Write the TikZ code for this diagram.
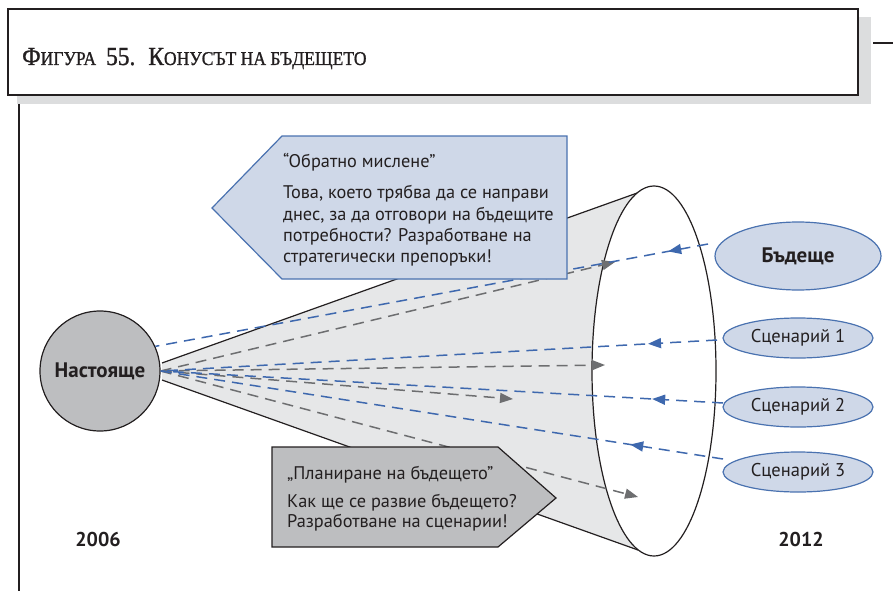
\documentclass[tikz,border=0pt]{standalone}
\usepackage{fontspec}
\setmainfont{PT Sans}
\newfontfamily\titlefont[FakeStretch=0.9,FakeBold=1]{Liberation Serif}
\usetikzlibrary{arrows.meta,decorations.markings,shapes.geometric}
\definecolor{shadowgray}{HTML}{DCDDDE}
\definecolor{conegray}{HTML}{E6E7E8}
\definecolor{circgray}{HTML}{BDBEC0}
\definecolor{bluefill}{HTML}{CFD8E8}
\definecolor{blueedge}{HTML}{4A72B0}
\definecolor{bluedashc}{HTML}{3E68AE}
\definecolor{graydashc}{HTML}{6D6E70}
\definecolor{darkink}{HTML}{231F20}
\tikzset{
  bluedash/.style={draw=bluedashc, line width=1.5pt, dash pattern=on 11pt off 7pt},
  graydash/.style={draw=graydashc, line width=1.5pt, dash pattern=on 11pt off 7pt, -{Triangle[length=13pt,width=10pt]}},
  midarrow/.style={decoration={markings, mark=at position #1 with {\arrow[bluedashc]{Triangle[length=13pt,width=10pt]}}}, postaction=decorate},
  scen/.style={ellipse, draw=blueedge, fill=bluefill, line width=1.2pt, inner sep=0pt, text=darkink},
  calltext/.style={anchor=base west, inner sep=0pt, text=darkink, font=\fontsize{18.3}{21}\selectfont},
}
\newcommand{\BC}[1]{{\fontsize{26}{30}\selectfont #1}}
\newcommand{\SC}[1]{{\fontsize{19.5}{24}\selectfont #1}}
\begin{document}
\begin{tikzpicture}[x=1pt,y=-1pt]
\useasboundingbox (0,0) rectangle (893,591);
% title frame
\fill[shadowgray] (17,17) rectangle (871,104);
\draw[line width=1.8pt, fill=white, draw=darkink] (8,9) rectangle (858,95);
\draw[line width=1.5pt, darkink] (873,43) -- (893,43);
\draw[line width=1.5pt, darkink] (19,104) -- (19,591);
\node[anchor=base west, inner sep=0pt, text=darkink, font=\titlefont] (title) at (22,65)
  {\BC{Ф}\SC{ИГУРА}\hspace{10pt}\BC{55.}\hspace{13pt}\BC{К}\SC{ОНУСЪТ НА БЪДЕЩЕТО}};
% cone
\coordinate (ct) at (640,192);
\coordinate (cb) at (638,550);
\coordinate (ca) at (162,363);
\coordinate (cc) at (162,380);
\fill[conegray] (ca) -- (ct) -- (654,371) -- (cb) -- (cc) -- cycle;
\draw[line width=1.2pt, darkink] (ca) -- (ct);
\draw[line width=1.2pt, darkink] (cc) -- (cb);
\node[ellipse, draw=darkink, fill=white, line width=1.2pt, minimum width=124, minimum height=370, inner sep=0pt] (mouth) at (654,371) {};
% present
\node[circle, draw=darkink, fill=circgray, line width=1.2pt, minimum size=120, inner sep=0pt, text=darkink, font=\bfseries\fontsize{21}{24}\selectfont] (now) at (100,371) {Настояще};
% future ellipses
\node[scen, minimum width=166, minimum height=68, font=\bfseries\fontsize{21}{24}\selectfont] (fut) at (798,256) {Бъдеще};
\node[scen, minimum width=150, minimum height=40, font=\fontsize{18.5}{21}\selectfont] (s1) at (798,338) {Сценарий 1};
\node[scen, minimum width=150, minimum height=40, font=\fontsize{18.5}{21}\selectfont] (s2) at (798,407) {Сценарий 2};
\node[scen, minimum width=150, minimum height=40, font=\fontsize{18.5}{21}\selectfont] (s3) at (798,472) {Сценарий 3};
% dashed connectors
\coordinate (b1) at (708,244);
\coordinate (b2) at (717,340);
\coordinate (b3) at (723,403);
\coordinate (b4) at (723,459);
\coordinate (g1) at (615,262);
\coordinate (g2) at (605,365);
\coordinate (g3) at (513,399);
\coordinate (g4) at (638,497);
\draw[graydash] (now.east) -- (g1);
\draw[graydash] (now.east) -- (g2);
\draw[graydash] (now.east) -- (g3);
\draw[graydash] (now.east) -- (g4);
\draw[bluedash, midarrow=0.072] (b1) -- (now.24);
\draw[bluedash, midarrow=0.124] (b2) -- (now.east);
\draw[bluedash, midarrow=0.126] (b3) -- (now.east);
\draw[bluedash, midarrow=0.165] (b4) -- (now.east);
% top callout
\draw[fill=bluefill, draw=blueedge, line width=1.2pt] (212,208) -- (282,136) -- (567,136) -- (567,279) -- (282,279) -- cycle;
\node[calltext] (c1) at (283,167) {“Обратно мислене”};
\node[calltext] (c2) at (283,198) {Това, което трябва да се направи};
\node[calltext] (c3) at (283,220) {днес, за да отговори на бъдещите};
\node[calltext] (c4) at (283,241) {потребности? Разработване на};
\node[calltext] (c5) at (283,262) {стратегически препоръки!};
% bottom callout
\draw[fill=circgray, draw=darkink, line width=1.2pt] (272,447) -- (498,447) -- (556,498) -- (498,547) -- (272,547) -- cycle;
\node[calltext] (p1) at (287,479) {„Планиране на бъдещето”};
\node[calltext] (p2) at (287,507) {Как ще се развие бъдещето?};
\node[calltext] (p3) at (287,527) {Разработване на сценарии!};
% years
\node[text=darkink, font=\bfseries\fontsize{20}{23}\selectfont] (y1) at (98,539) {2006};
\node[text=darkink, font=\bfseries\fontsize{20}{23}\selectfont] (y2) at (801,539) {2012};
\end{tikzpicture}
\end{document}
